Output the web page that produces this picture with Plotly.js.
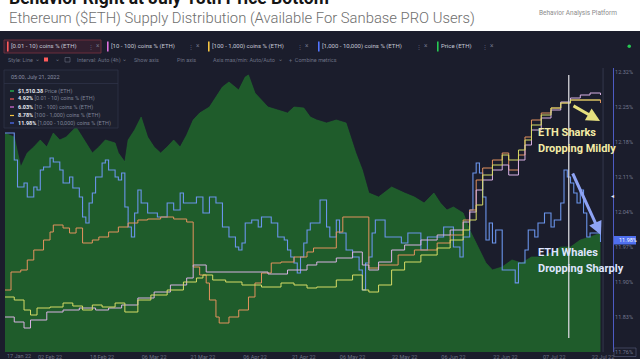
<!DOCTYPE html>
<html><head><meta charset="utf-8">
<script src="https://cdn.plot.ly/plotly-3.0.1.min.js"></script>
<style>html,body{margin:0;padding:0;background:#1b1d2c;overflow:hidden}#chart{width:640px;height:359px}</style>
</head><body><div id="chart"></div>
<script>
// ---------- DATA ----------
const priceDates = ["2022-01-19","2022-01-22","2022-01-24","2022-01-26","2022-01-28","2022-01-30","2022-02-01","2022-02-03","2022-02-05","2022-02-07","2022-02-10","2022-02-13","2022-02-15","2022-02-17","2022-02-19","2022-02-22","2022-02-23","2022-02-25","2022-02-26","2022-02-28","2022-03-02","2022-03-04","2022-03-06","2022-03-08","2022-03-10","2022-03-12","2022-03-14","2022-03-16","2022-03-18","2022-03-20","2022-03-23","2022-03-25","2022-03-27","2022-03-29","2022-04-01","2022-04-03","2022-04-04","2022-04-06","2022-04-08","2022-04-10","2022-04-13","2022-04-16","2022-04-18","2022-04-21","2022-04-23","2022-04-25","2022-04-28","2022-05-01","2022-05-04","2022-05-07","2022-05-09","2022-05-11","2022-05-14","2022-05-18","2022-05-22","2022-05-25","2022-05-28","2022-05-31","2022-06-02","2022-06-04","2022-06-06","2022-06-09","2022-06-11","2022-06-13","2022-06-16","2022-06-18","2022-06-21","2022-06-24","2022-06-27","2022-06-30","2022-07-03","2022-07-06","2022-07-09","2022-07-12","2022-07-15","2022-07-18","2022-07-21 05:00"];
const priceValues = [2784,2733,2352,2530,2606,2695,2606,2784,2695,2733,2860,2670,2530,2606,2695,2657,2530,2415,2695,2822,2987,2733,2606,2530,2606,2695,2606,2758,2949,3038,3114,3241,3369,3432,3330,3496,3521,3292,3203,3114,3076,3038,3114,3102,2987,2949,2911,2949,2911,2530,2314,2021,1970,2097,2021,1970,1894,2021,1894,1805,1843,1767,1551,1386,1132,1043,1081,1170,1132,1208,1208,1259,1335,1335,1424,1462,1510.38];

const whaleDates = ["2022-01-19","2022-01-22","2022-01-23","2022-01-25","2022-01-26","2022-01-28","2022-01-29","2022-01-30","2022-01-31","2022-02-02","2022-02-03","2022-02-05","2022-02-06","2022-02-08","2022-02-09","2022-02-11","2022-02-12","2022-02-13","2022-02-14","2022-02-15","2022-02-16","2022-02-18","2022-02-19","2022-02-20","2022-02-22","2022-02-23","2022-02-24","2022-02-25","2022-02-26","2022-02-27","2022-02-28","2022-03-01","2022-03-02","2022-03-04","2022-03-07","2022-03-10","2022-03-12","2022-03-14","2022-03-15","2022-03-19","2022-03-21","2022-03-23","2022-03-25","2022-03-27","2022-03-29","2022-03-31","2022-04-01","2022-04-02","2022-04-03","2022-04-05","2022-04-07","2022-04-08","2022-04-11","2022-04-13","2022-04-15","2022-04-16","2022-04-17","2022-04-18","2022-04-19","2022-04-20","2022-04-21","2022-04-22","2022-04-23","2022-04-26","2022-04-28","2022-04-29","2022-05-01","2022-05-02","2022-05-04","2022-05-06","2022-05-08","2022-05-09","2022-05-10","2022-05-11","2022-05-12","2022-05-13","2022-05-16","2022-05-21","2022-05-23","2022-05-27","2022-05-29","2022-06-03","2022-06-06","2022-06-08","2022-06-09","2022-06-11","2022-06-12","2022-06-13","2022-06-14","2022-06-15","2022-06-16","2022-06-17","2022-06-18","2022-06-19","2022-06-21","2022-06-25","2022-06-26","2022-06-28","2022-06-29","2022-07-01","2022-07-02","2022-07-04","2022-07-06","2022-07-07","2022-07-09","2022-07-10","2022-07-11","2022-07-12","2022-07-13","2022-07-14","2022-07-15","2022-07-16","2022-07-17","2022-07-18","2022-07-21 05:00"];
const whaleValues = [12.198,12.144,12.090,12.098,12.070,12.090,12.084,12.124,12.130,12.148,12.140,12.124,12.098,12.110,12.088,12.070,12.030,12.018,12.058,12.078,12.110,12.138,12.144,12.124,12.110,12.104,12.118,12.050,12.010,11.990,12.038,12.084,12.058,12.038,12.030,12.058,12.044,12.078,12.058,12.070,12.038,12.070,12.058,12.010,11.990,11.970,11.964,11.978,12.018,12.024,12.010,12.030,12.018,11.990,11.984,11.964,11.950,11.938,11.918,11.950,11.978,12.004,12.018,12.064,12.010,11.990,12.024,11.998,11.964,11.950,11.924,11.884,11.938,11.950,11.998,12.024,11.990,11.978,11.998,11.964,11.990,12.010,11.970,11.950,11.990,12.044,12.118,12.138,12.118,12.070,11.984,12.018,11.978,12.004,11.924,11.898,11.938,11.964,12.004,11.990,12.018,12.038,12.010,12.024,12.058,12.124,12.110,12.098,12.078,12.058,12.084,12.038,11.990,11.998,11.980];

const smallDates = ["2022-01-19","2022-01-21","2022-01-24","2022-01-26","2022-01-28","2022-01-31","2022-02-02","2022-02-03","2022-02-06","2022-02-08","2022-02-10","2022-02-12","2022-02-15","2022-02-17","2022-02-20","2022-02-23","2022-02-26","2022-03-01","2022-03-04","2022-03-08","2022-03-12","2022-03-16","2022-03-18","2022-03-20","2022-03-22","2022-03-23","2022-03-25","2022-03-26","2022-03-29","2022-04-01","2022-04-04","2022-04-06","2022-04-08","2022-04-11","2022-04-14","2022-04-18","2022-04-22","2022-04-24","2022-05-01","2022-05-03","2022-05-11","2022-05-14","2022-05-20","2022-05-25","2022-06-01","2022-06-05","2022-06-09","2022-06-11","2022-06-13","2022-06-15","2022-06-18","2022-06-21","2022-06-23","2022-06-26","2022-06-28","2022-06-30","2022-07-03","2022-07-06","2022-07-09","2022-07-12","2022-07-21 05:00"];
const smallValues = [4.733,4.751,4.753,4.763,4.773,4.783,4.791,4.798,4.795,4.790,4.795,4.780,4.783,4.786,4.791,4.796,4.800,4.803,4.804,4.806,4.804,4.801,4.756,4.748,4.740,4.723,4.706,4.700,4.706,4.713,4.726,4.740,4.750,4.760,4.761,4.766,4.771,4.775,4.791,4.806,4.755,4.758,4.768,4.773,4.780,4.788,4.803,4.813,4.843,4.855,4.863,4.870,4.853,4.868,4.886,4.903,4.910,4.915,4.920,4.923,4.920];

const midDates = ["2022-01-19","2022-01-22","2022-01-25","2022-01-27","2022-02-01","2022-02-06","2022-02-11","2022-02-16","2022-02-20","2022-02-24","2022-03-01","2022-03-06","2022-03-11","2022-03-16","2022-03-18","2022-03-22","2022-04-10","2022-04-16","2022-04-22","2022-04-25","2022-05-01","2022-05-06","2022-05-09","2022-05-11","2022-05-14","2022-05-18","2022-05-22","2022-05-27","2022-06-01","2022-06-05","2022-06-09","2022-06-11","2022-06-13","2022-06-15","2022-06-18","2022-06-21","2022-06-23","2022-06-26","2022-06-28","2022-06-30","2022-07-03","2022-07-06","2022-07-09","2022-07-12","2022-07-15","2022-07-18","2022-07-21 05:00"];
const midValues = [5.586,5.576,5.564,5.580,5.596,5.600,5.604,5.600,5.604,5.610,5.624,5.636,5.650,5.664,5.690,5.676,5.672,5.680,5.690,5.696,5.704,5.716,5.690,5.680,5.696,5.720,5.730,5.740,5.750,5.760,5.776,5.796,5.840,5.860,5.880,5.890,5.870,5.900,5.930,5.960,5.984,6.000,6.016,6.024,6.030,6.034,6.030];

const sharkDates = ["2022-01-19","2022-01-22","2022-01-25","2022-01-27","2022-01-29","2022-02-02","2022-02-06","2022-02-09","2022-02-12","2022-02-15","2022-02-18","2022-02-22","2022-02-25","2022-03-01","2022-03-05","2022-03-10","2022-03-15","2022-03-19","2022-03-21","2022-03-24","2022-03-28","2022-04-02","2022-04-08","2022-04-14","2022-04-18","2022-04-22","2022-04-25","2022-05-01","2022-05-06","2022-05-09","2022-05-11","2022-05-14","2022-05-18","2022-05-22","2022-05-27","2022-06-01","2022-06-05","2022-06-09","2022-06-11","2022-06-13","2022-06-15","2022-06-18","2022-06-21","2022-06-23","2022-06-26","2022-06-28","2022-06-30","2022-07-03","2022-07-06","2022-07-09","2022-07-12","2022-07-21 05:00"];
const sharkValues = [8.386,8.380,8.360,8.350,8.364,8.366,8.374,8.368,8.360,8.370,8.366,8.374,8.356,8.380,8.390,8.400,8.416,8.424,8.430,8.420,8.416,8.410,8.406,8.414,8.410,8.404,8.406,8.420,8.430,8.400,8.396,8.410,8.440,8.456,8.470,8.484,8.500,8.520,8.540,8.570,8.630,8.650,8.670,8.660,8.680,8.700,8.730,8.750,8.764,8.774,8.780,8.780];

const xTickDates = ["2022-02-02","2022-02-18","2022-03-06","2022-03-21","2022-04-06","2022-04-21","2022-05-06","2022-05-22","2022-06-06","2022-06-22","2022-07-07","2022-07-22"];
const xTickLabels = ["02 Feb 22","18 Feb 22","06 Mar 22","21 Mar 22","06 Apr 22","21 Apr 22","06 May 22","22 May 22","06 Jun 22","22 Jun 22","07 Jul 22","22 Jul 22"];
const whaleTicks = [11.76,11.83,11.90,11.97,12.04,12.11,12.18,12.25,12.32];
const whaleTickLabels = ["11.76%","11.83%","11.90%","11.97%","12.04%","12.11%","12.18%","12.25%","12.32%"];

const seriesNames = ["Price (ETH)","[0.01 - 10) coins % (ETH)","[10 - 100) coins % (ETH)","[100 - 1,000) coins % (ETH)","[1,000 - 10,000) coins % (ETH)"];
const lastValues = ["$1,510.38","4.92%","6.03%","8.78%","11.98%"];

// ---------- STYLE ----------
const C = {bg:'#1b1d2c', green:'#26c953', red:'#ff5b5b', pink:'#e070e0', yellow:'#f5c542', blue:'#5275ff',
  lSmall:'#e3925e', lMid:'#d9b2e4', lShark:'#d6db66', lWhale:'#6a94ea'};
const FONT = 'Roboto, "Open Sans", sans-serif';
const PX = x => (x - 5) / 608;
const PY = y => (352 - y) / 284;

const traces = [
  {x: priceDates, y: priceValues, type:'scatter', mode:'lines', yaxis:'y', line:{color:'#216a2f', width:0.6}, fill:'tozeroy', fillcolor:'#1f5c2b', hoverinfo:'skip'},
  {x: midDates, y: midValues, type:'scatter', mode:'lines', yaxis:'y4', line:{shape:'hv', color:C.lMid, width:1}, hoverinfo:'skip'},
  {x: sharkDates, y: sharkValues, type:'scatter', mode:'lines', yaxis:'y5', line:{shape:'hv', color:C.lShark, width:1}, hoverinfo:'skip'},
  {x: smallDates, y: smallValues, type:'scatter', mode:'lines', yaxis:'y3', line:{shape:'hv', color:C.lSmall, width:1}, hoverinfo:'skip'},
  {x: whaleDates, y: whaleValues, type:'scatter', mode:'lines', yaxis:'y2', line:{shape:'hv', color:C.lWhale, width:1.1}, hoverinfo:'skip'}
];

const shapes = [];
const annotations = [];
function txt(text, x, y, size, color, opts) {
  annotations.push(Object.assign({text, x:PX(x), y:PY(y), xref:'paper', yref:'paper', xanchor:'left', yanchor:'middle',
    showarrow:false, font:{family:FONT, size, color}}, opts || {}));
}
function rect(x0,y0,x1,y1,fill,line,lw) {
  shapes.push({type:'rect', xref:'paper', yref:'paper', x0:PX(x0), x1:PX(x1), y0:PY(y1), y1:PY(y0),
    fillcolor:fill, line:{color:line||'rgba(0,0,0,0)', width:lw||0}, layer:'above'});
}

// header
shapes.push({type:'rect', xref:'paper', yref:'paper', x0:PX(-2), x1:PX(642), y0:PY(31), y1:PY(-2), fillcolor:'#ffffff', line:{width:0}, layer:'below'});
txt('<b>Behavior Right at July 18th Price Bottom</b>', 7, -2, 17.5, '#151515');
txt('Ethereum ($ETH) Supply Distribution (Available For Sanbase PRO Users)', 7, 18, 14.8, '#6e6e6e', {font:{family:FONT, size:14.8, color:'#6e6e6e', weight:300}});
txt('Behavior Analysis Platform', 537, 13, 6.5, '#8c8c8c');

// metric chips
rect(4, 40, 101, 53, 'rgba(120,40,55,0.25)', '#6a2f3c', 1);
const chipColors = [C.red, C.pink, C.yellow, C.blue, C.green];
const chipNames = [seriesNames[1], seriesNames[2], seriesNames[3], seriesNames[4], seriesNames[0]];
const chipX = [7, 107, 208, 318, 437];
const chipEnd = [86, 186, 295, 414, 480];
chipNames.forEach((n, i) => {
  rect(chipX[i], 41.5, chipX[i] + 1.6, 51.5, chipColors[i]);
  txt(n, chipX[i] + 2, 46.5, 6, '#c3c7d4');
  txt('⋮', chipEnd[i], 46.5, 6, '#5d6275');
  txt('×', chipEnd[i] + 8, 46.5, 6.5, '#6d7285');
});
shapes.push({type:'circle', xref:'paper', yref:'paper', x0:PX(627.5), x1:PX(631), y0:PY(48), y1:PY(44.5), fillcolor:C.green, line:{width:0}});

// settings row
const setCol = '#6c7184';
txt('Style: Line', 6, 60, 5.5, setCol);
txt('⌄', 33, 58.5, 6, setCol);
rect(44, 57.5, 48, 61.5, C.red);
txt('⌄', 53, 58.5, 6, setCol);
rect(65, 57.5, 70, 62, 'rgba(0,0,0,0)', setCol, 0.6);
txt('Interval: Auto (4h)', 75, 60, 5.5, setCol);
txt('⌄', 120, 58.5, 6, setCol);
txt('Show axis', 132, 60, 5.5, setCol);
txt('Pin axis', 175, 60, 5.5, setCol);
txt('Axis max/min: Auto/Auto', 211, 60, 5.5, setCol);
txt('⌄', 276, 58.5, 6, setCol);
txt('+  Combine metrics', 287, 60, 5.5, setCol);

// tooltip box
rect(4, 70, 118, 128, 'rgba(29,32,48,0.96)', '#2d3247', 0.8);
shapes.push({type:'line', xref:'paper', yref:'paper', x0:PX(4), x1:PX(118), y0:PY(83.5), y1:PY(83.5), line:{color:'#2d3247', width:0.8}, layer:'above'});
txt('05:00, July 21, 2022', 9, 77, 5.5, '#8a8fa3');
const tipColors = [C.green, C.red, C.pink, C.yellow, C.blue];
const tipY = [91, 99, 107, 115.5, 123];
for (let i = 0; i < 5; i++) {
  shapes.push({type:'line', xref:'paper', yref:'paper', x0:PX(10), x1:PX(14), y0:PY(tipY[i]), y1:PY(tipY[i]), line:{color:tipColors[i], width:1.2}, layer:'above'});
  txt('<b>' + lastValues[i] + '</b> <span style="color:#7d8296">' + seriesNames[i] + '</span>', 16, tipY[i], 5.5, '#e6e8ef');
}

// vertical markers
shapes.push({type:'line', xref:'x', yref:'paper', x0:'2022-07-11 11:00', x1:'2022-07-11 11:00', y0:PY(338), y1:PY(75), line:{color:'#d6d6dc', width:1.3}, layer:'above'});
shapes.push({type:'line', xref:'x', yref:'paper', x0:'2022-07-22', x1:'2022-07-22', y0:0, y1:1, line:{color:'#3a3f55', width:0.8}, layer:'below'});

// axis highlight boxes
rect(614, 236, 636, 244.5, '#4f6fee');
txt('11.98%', 616.5, 240.2, 5.5, '#ffffff');
rect(614, 348, 636, 356.5, 'rgba(0,0,0,0)', '#5a6080', 0.6);
txt('◂', 609, 195, 6, '#e8e8ee');

// x first label (tick before visible range)
txt('17 Jan 22', 5, 356, 5.5, '#6d7285');

// callouts
annotations.push({x:PX(600), y:PY(121), xref:'paper', yref:'paper', ax:-28, ay:-16, showarrow:true, arrowhead:2, arrowsize:0.9, arrowwidth:3, arrowcolor:'#e6e07e', text:''});
annotations.push({x:PX(601), y:PY(235), xref:'paper', yref:'paper', ax:-29, ay:-63, showarrow:true, arrowhead:2, arrowsize:0.9, arrowwidth:3, arrowcolor:'#8ea3f4', text:''});
txt('<b>ETH Sharks</b>', 536, 132, 11, '#f3eba6');
txt('<b>Dropping Mildly</b>', 536, 148, 11, '#f3eba6');
txt('<b>ETH Whales</b>', 536, 252, 11, '#dfe5ff');
txt('<b>Dropping Sharply</b>', 536, 268, 11, '#dfe5ff');

const layout = {
  width:640, height:359, margin:{l:5, r:27, t:68, b:7},
  paper_bgcolor:C.bg, plot_bgcolor:C.bg, showlegend:false, hovermode:false,
  font:{family:FONT},
  xaxis:{type:'date', range:['2022-01-19 03:40','2022-07-25 01:25'], tickmode:'array', tickvals:xTickDates, ticktext:xTickLabels,
    tickfont:{size:5.5, color:'#6d7285'}, showgrid:false, zeroline:false, showline:false, ticks:'', fixedrange:true},
  yaxis:{range:[0,3610], visible:false, fixedrange:true},
  yaxis2:{overlaying:'y', side:'right', range:[11.7598,12.328], tickmode:'array', tickvals:whaleTicks, ticktext:whaleTickLabels,
    tickfont:{size:5.5, color:'#737890'}, showgrid:false, zeroline:false, showline:true, linecolor:'#4d5bc4', linewidth:1, ticks:'', fixedrange:true},
  yaxis3:{overlaying:'y', range:[4.671,4.955], visible:false, fixedrange:true},
  yaxis4:{overlaying:'y', range:[5.516,6.084], visible:false, fixedrange:true},
  yaxis5:{overlaying:'y', range:[8.276,8.844], visible:false, fixedrange:true},
  shapes, annotations
};
Plotly.newPlot('chart', traces, layout, {displayModeBar:false, staticPlot:true});
</script></body></html>
